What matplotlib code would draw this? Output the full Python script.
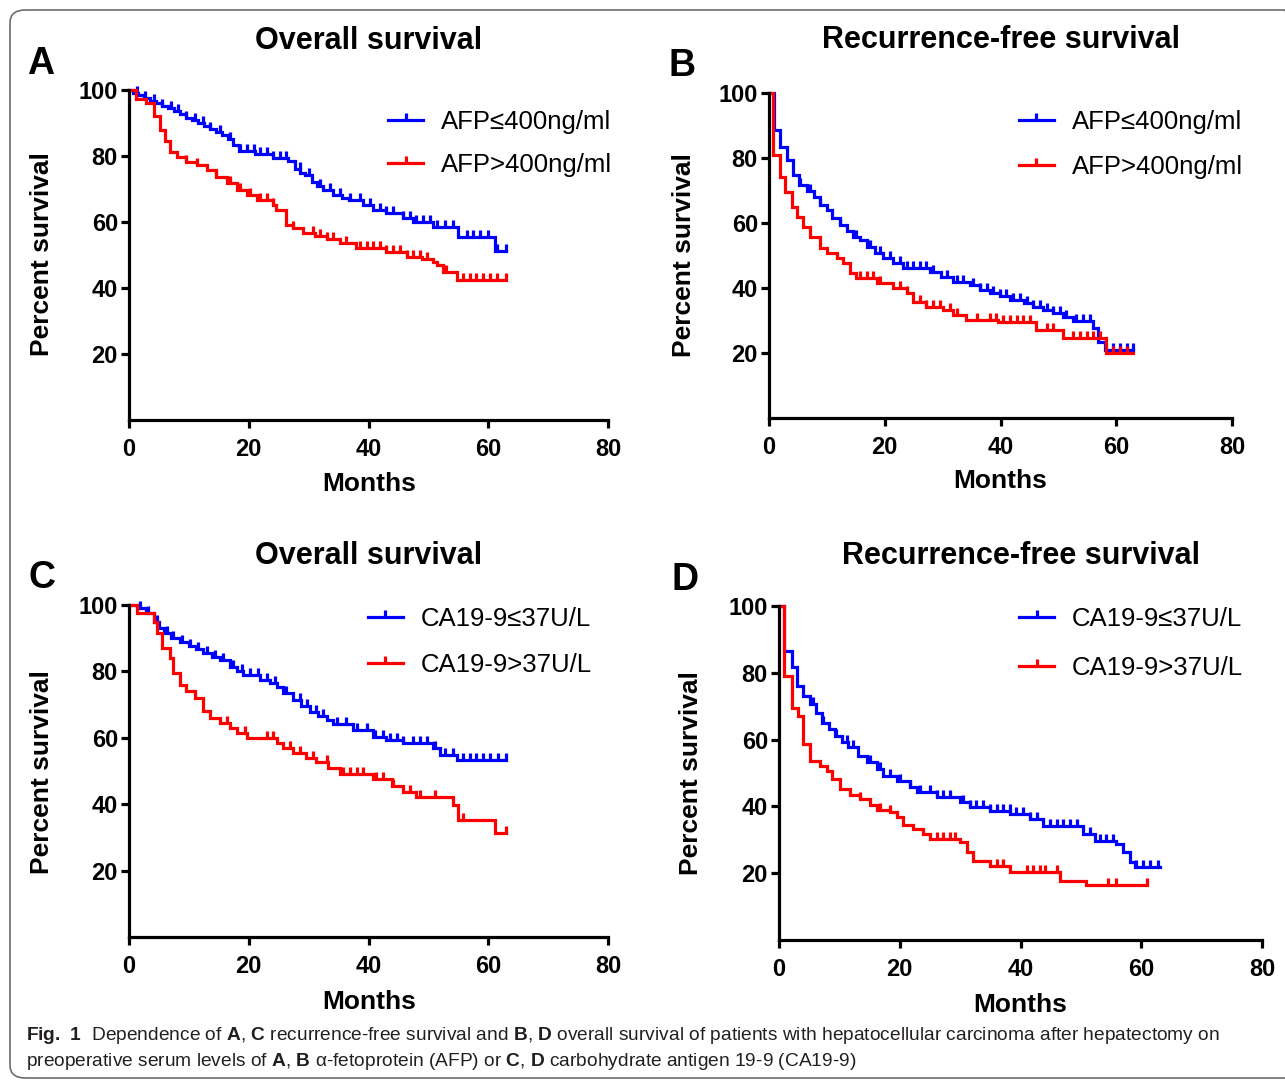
import numpy as np
import matplotlib
matplotlib.use("Agg")
import matplotlib.pyplot as plt
from matplotlib.path import Path
from matplotlib.lines import Line2D
from matplotlib.patches import FancyBboxPatch

plt.rcParams["font.family"] = ["Liberation Sans", "DejaVu Sans"]
plt.rcParams["mathtext.fontset"] = "custom"
plt.rcParams["mathtext.rm"] = "Liberation Sans"
plt.rcParams["mathtext.bf"] = "Liberation Sans:bold"

# ---- data (months, percent survival) ----
# A: overall survival by AFP
a_low_t = [0.7, 1.5, 2.5, 3.5, 4.5, 5.5, 6.5, 7.5, 8.5, 9.5, 10.5, 11.5, 12.5, 13.5, 14.5, 15.5, 16.5, 17.4, 18.3, 21,
           24, 26.5, 27.8, 28.6, 29.4, 30.5, 31.4, 32.4, 34, 35.5, 36.8, 39, 40.7, 43, 45.8, 47.5, 50.8, 55, 61.2]
a_low_s = [99.2, 98.4, 97.6, 96.8, 96, 95.2, 94.4, 93.6, 92.6, 91.6, 90.8, 89.9, 89.1, 88.2, 87.2, 86.3, 85.2, 83.3, 81.5, 80.5,
           79.5, 78.5, 76.2, 75, 74.2, 72.2, 71, 69.7, 68.2, 67.4, 66.6, 65.1, 63.6, 62.6, 61.1, 60.1, 58.6, 55.5, 51.2]
a_low_end = 63
a_low_cens = [1.3, 2.7, 4.1, 5.5, 7, 8.2, 9.6, 11, 12.4, 13.5, 15.2, 16.9, 18.5, 19.7, 20.8, 21.9, 23, 24.1, 25.2, 26.3,
              28.5, 30, 31.9, 33.6, 35.2, 36.9, 38.6, 40.2, 41.9, 43, 44.1, 45.8, 46.9, 48, 49.1, 50.3, 51.4, 52.8, 54.1,
              56.4, 57.5, 58.6, 60, 61.4, 63]
a_high_t = [1.1, 2.8, 4.1, 5.2, 6.0, 6.9, 8, 9.6, 11.3, 13, 14.6, 16.3, 18, 19.7, 21.3, 24, 24.6, 26.3, 27.4, 29,
            31, 33, 35.2, 37.9, 43, 46.4, 49, 50.8, 51.4, 52.5, 54.8]
a_high_s = [97.4, 96, 92, 87.8, 84.5, 81.3, 79.8, 78.3, 77.2, 75.7, 73.7, 71.7, 69.7, 68.2, 66.6, 65.1, 63.6, 59.1, 58.1, 56.6,
            55.8, 54.8, 53.5, 52, 51, 49.5, 48.8, 48, 47, 45, 42.4]
a_high_end = 63
a_high_cens = [9.6, 11.3, 14.6, 16.9, 18.5, 20.2, 21.9, 23, 24.1, 27.4, 30.8, 31.9, 33, 34.1, 36.3, 38.6, 39.7, 40.8, 41.9,
               43, 44.1, 45.2, 46.4, 47.5, 48.6, 49.7, 53, 55.8, 56.9, 58, 59.2, 60.3, 61.4, 63]

# B: recurrence-free survival by AFP
b_low_t = [0.9, 1.9, 3.1, 4.2, 5.1, 6.5, 7.7, 8.8, 10, 10.8, 12.3, 13.4, 14.6, 15.7, 16.9, 18.3, 19.7, 21.5, 23.2, 27.8,
           29.8, 31.8, 34.7, 36.4, 38.2, 39.9, 41.6, 44, 45.7, 47.4, 49.1, 50.8, 52.6, 56, 56.9, 58]
b_low_s = [88.6, 83.5, 79.4, 74.8, 71.7, 69.7, 68.1, 65.6, 64, 61.5, 59.4, 57.4, 55.8, 54.8, 52.7, 50.7, 49.1, 47.6, 46.1, 45,
           43.5, 42, 40.9, 39.4, 38.4, 37.4, 36.3, 35.3, 34.3, 33.2, 32.2, 31.2, 29.7, 27.6, 23.5, 21]
b_low_end = 62.9
b_low_cens = [5.4, 7.1, 8.8, 12.3, 15.1, 17.4, 19.2, 20.9, 22.6, 23.8, 24.9, 26.1, 27.2, 28.4, 30.7, 32.4, 33.6, 35.3, 36.4,
              37.6, 38.7, 39.9, 41, 42.2, 43.3, 44.5, 45.7, 46.8, 48, 49.1, 50.3, 51.4, 53.1, 54.3, 55.4, 59.5, 60.6,
              61.8, 62.9]
b_high_t = [0.7, 1.9, 2.7, 3.9, 4.8, 5.9, 7.1, 8.8, 10, 11.7, 12.8, 14, 15.1, 18.6, 21.5, 23.8, 24.9, 27.2, 30.1, 31.8,
            34.1, 39.5, 46.2, 50.8, 58.3]
b_high_s = [81, 74.2, 69.6, 65, 61.9, 58.8, 55.8, 52.2, 50.7, 49.1, 47.6, 44.5, 43, 41.4, 39.9, 38.4, 35.8, 34.3, 33.2, 31.7,
            30.2, 29.4, 27.1, 24.5, 20]
b_high_end = 62.9
b_high_cens = [15.7, 16.9, 18, 19.2, 22.6, 23.8, 26.1, 27.2, 28.4, 29.5, 31.3, 32.4, 35.9, 38.2, 39.3, 40.5, 41.6, 42.8,
               43.9, 45.1, 48, 49.1, 52.6, 53.7, 54.9, 56, 57.2, 59.5, 60.6, 61.8]

# C: overall survival by CA19-9
c_low_t = [1.4, 2.8, 4.1, 5.0, 5.8, 7, 8.5, 10, 11.2, 12.4, 13.8, 15.2, 16.9, 18, 19.1, 21.9, 23.5, 24.7, 25.8, 27.4,
           28.8, 30.2, 31.6, 33, 34.1, 37.4, 40.7, 43, 45.8, 50.8, 51.9, 54.7]
c_low_s = [99, 97.5, 95, 93.2, 91.5, 90.2, 89, 87.8, 86.6, 85.4, 84.4, 83.4, 81.4, 80.1, 78.9, 77.4, 76.4, 75.4, 73.4, 71.4,
           69.6, 67.8, 66.5, 65.3, 64.3, 62.3, 60.3, 59.3, 58.3, 56.8, 54.8, 53.3]
c_low_end = 63
c_low_cens = [1.8, 3.2, 4.6, 6.3, 7.4, 8.8, 10.2, 11.6, 13, 14.4, 15.7, 17.4, 18.8, 20.2, 21.6, 23, 24.4, 26.3, 28.5, 29.7,
              31.3, 32.4, 34.7, 36.3, 38, 39.7, 41.1, 42.5, 43.6, 44.7, 45.8, 47.5, 48.6, 49.7, 51.1, 52.8, 54.1, 55.8,
              56.9, 58, 59.2, 60.3, 61.7, 63]
c_high_t = [1.4, 4.1, 4.7, 5.5, 6.9, 7.4, 8.5, 9.6, 11, 12.3, 13.5, 15.2, 16.9, 18, 19.7, 24.7, 25.8, 27.4, 29.6, 31.3,
            33.3, 35.2, 40.7, 44, 45.8, 48, 54.1, 55, 61.2]
c_high_s = [97.5, 95, 91.5, 87, 84, 79.6, 76, 74, 72, 68, 66, 64.5, 63, 61.5, 60, 58.5, 57, 55.5, 54, 52.8,
            50.8, 49.2, 47.5, 45.5, 43.8, 42.3, 39.8, 35.3, 31.3]
c_high_end = 63
c_high_cens = [16.3, 19.4, 23, 24.1, 26.9, 28.5, 30.8, 33, 35.8, 36.9, 38, 39.1, 41.3, 42.5, 44.1, 46.9, 48.6, 51.1, 55.8,
               63]

# D: recurrence-free survival by CA19-9
d_low_t = [0.8, 2.1, 2.9, 4, 5.1, 6.2, 7.1, 8.2, 9.3, 10.4, 11.5, 13.1, 14.5, 16.2, 17.3, 19.5, 21.7, 22.8, 26.1, 30,
           31.6, 34.9, 38.3, 41.6, 43.8, 50.4, 52.3, 55.9, 57, 58.1, 59]
d_low_s = [86.6, 81.6, 76.1, 73.1, 70.6, 68.1, 65.1, 63.2, 61.2, 59.2, 57.7, 55.2, 53.2, 51.2, 49.2, 47.7, 45.7, 44.2, 42.7, 41.2,
           39.7, 38.7, 37.7, 36.2, 34.2, 31.7, 29.7, 28.7, 26.2, 23.3, 21.8]
d_low_end = 63.1
d_low_cens = [5.7, 7.3, 9.5, 11.2, 12.3, 15.1, 16.7, 18.4, 20, 21.7, 23.3, 25, 26.1, 27.2, 28.3, 30.5, 31.6, 32.7, 33.8, 35,
              36.1, 37.1, 38.2, 39.3, 40.4, 41.6, 42.7, 44.9, 46, 47.1, 48.2, 49.3, 51.5, 53.1, 54.2, 55.3, 59.2, 60.3,
              61.4, 62.8]
d_high_t = [0.9, 2.1, 3.2, 4, 5.1, 6.8, 7.9, 8.7, 10.1, 11.8, 13.4, 15.1, 16.2, 18.4, 19.5, 20.6, 22.2, 23.9, 25, 30,
            31.1, 32.2, 35, 38.3, 46.5, 50.9]
d_high_s = [79.1, 69.6, 67.2, 58.7, 53.7, 52.2, 50.7, 48.2, 45.2, 43.3, 42.3, 40.3, 38.8, 38.3, 36.8, 34.3, 33.3, 31.8, 30.3, 29.3,
            26.3, 23.8, 22.3, 20.3, 17.8, 16.4]
d_high_end = 61
d_high_cens = [13.4, 16.7, 18.4, 26.1, 27.2, 28.3, 29.1, 36.1, 37.1, 41, 42.1, 43.2, 44, 46, 54.5, 55.9, 61]

titles = ["Overall survival", "Recurrence-free survival", "Overall survival", "Recurrence-free survival"]
letters = ["A", "B", "C", "D"]
afp_labels = ["AFP≤400ng/ml", "AFP>400ng/ml"]
ca_labels = ["CA19-9≤37U/L", "CA19-9>37U/L"]
x_ticks = [0, 20, 40, 60, 80]
y_ticks = [20, 40, 60, 80, 100]

BLUE = "#0000ff"
RED = "#ff0000"
LW = 2.3
TICK = Path([(0, 0), (0, 1)])  # censor mark, points upward

W, H = 1285, 1082


def fx(px):
    return px / W


def fy(py):
    return 1 - py / H


def km_curve(ax, times, surv, end, cens, color):
    x = [0] + times + [end]
    y = [100] + surv + [surv[-1]]
    ax.step(x, y, where="post", color=color, lw=LW, clip_on=False, solid_joinstyle="miter")
    idx = np.searchsorted(times, cens, side="right")
    yc = np.array([100] + surv)[idx]
    ax.plot(cens, yc, ls="none", marker=TICK, ms=10, mew=LW, color=color, clip_on=False)


fig = plt.figure(figsize=(W / 100, H / 100), dpi=100)

# axes boxes in pixels: left, right, top(100%), bottom(0%)
boxes = [(129, 608, 90, 420), (769, 1232, 93, 418), (129, 608, 605, 937), (779, 1262, 606, 940)]
panels = [
    (a_low_t, a_low_s, a_low_end, a_low_cens, a_high_t, a_high_s, a_high_end, a_high_cens, afp_labels),
    (b_low_t, b_low_s, b_low_end, b_low_cens, b_high_t, b_high_s, b_high_end, b_high_cens, afp_labels),
    (c_low_t, c_low_s, c_low_end, c_low_cens, c_high_t, c_high_s, c_high_end, c_high_cens, ca_labels),
    (d_low_t, d_low_s, d_low_end, d_low_cens, d_high_t, d_high_s, d_high_end, d_high_cens, ca_labels),
]
# legend anchor (axes fraction) and row spacing per panel
leg_pos = [(0.541, 0.94, 0.75), (0.54, 0.947, 0.79), (0.499, 0.995, 0.88), (0.497, 0.998, 0.99)]
title_pos = [(369, 41), (1001, 40), (369, 556), (1021, 556)]
xlabel_pos = [(369, 484), (1000, 481), (369, 1002), (1020, 1005)]
ylabel_pos = [(42, 254), (684, 255), (42, 772), (691, 773)]
letter_pos = [(41, 64), (682, 66), (42, 578), (685, 580)]

for i, (l, r, t, b) in enumerate(boxes):
    ax = fig.add_axes([fx(l), fy(b), (r - l) / W, (b - t) / H])
    lt, ls, le, lc, ht, hs, he, hc, labels = panels[i]
    km_curve(ax, lt, ls, le, lc, BLUE)
    km_curve(ax, ht, hs, he, hc, RED)

    ax.set_xlim(0, 80)
    ax.set_ylim(0, 100)
    ax.set_xticks(x_ticks)
    ax.set_yticks(y_ticks)
    for side in ["top", "right"]:
        ax.spines[side].set_visible(False)
    for side in ["left", "bottom"]:
        ax.spines[side].set_linewidth(LW)
    ax.tick_params(axis="both", length=6, width=LW, labelsize=17)
    ax.tick_params(axis="x", pad=7)
    ax.tick_params(axis="y", pad=2)
    for lab in ax.get_xticklabels() + ax.get_yticklabels():
        lab.set_fontweight("bold")

    handles = [Line2D([], [], color=BLUE, lw=LW, marker=TICK, ms=10, mew=LW),
               Line2D([], [], color=RED, lw=LW, marker=TICK, ms=10, mew=LW)]
    lx, ly, sp = leg_pos[i]
    ax.legend(handles, labels, loc="upper left", bbox_to_anchor=(lx, ly), frameon=False,
              borderpad=0, borderaxespad=0, handlelength=1.36, handletextpad=0.7,
              labelspacing=sp, numpoints=1, prop={"size": 18.5})

    fig.text(fx(title_pos[i][0]), fy(title_pos[i][1]), titles[i], ha="center", va="center",
             fontsize=22, fontweight="bold")
    fig.text(fx(xlabel_pos[i][0]), fy(xlabel_pos[i][1]), "Months", ha="center", va="center",
             fontsize=19, fontweight="bold")
    fig.text(fx(ylabel_pos[i][0]), fy(ylabel_pos[i][1]), "Percent survival", ha="center", va="center",
             fontsize=19, fontweight="bold", rotation=90)
    fig.text(fx(letter_pos[i][0]), fy(letter_pos[i][1]), letters[i], ha="center", va="center",
             fontsize=27, fontweight="bold")

# rounded frame around the whole figure
frame = FancyBboxPatch((fx(10), fy(1078)), (1300 - 10) / W, (1078 - 10) / H,
                       boxstyle="round,pad=0,rounding_size=0.012", transform=fig.transFigure,
                       fill=False, ec="#6d6d6d", lw=1.2)
fig.patches.append(frame)

# caption
line1 = (r"$\mathbf{Fig.\ 1}$  Dependence of $\mathbf{A}$, $\mathbf{C}$ recurrence-free survival and "
         r"$\mathbf{B}$, $\mathbf{D}$ overall survival of patients with hepatocellular carcinoma after hepatectomy on")
line2 = (r"preoperative serum levels of $\mathbf{A}$, $\mathbf{B}$ α-fetoprotein (AFP) or "
         r"$\mathbf{C}$, $\mathbf{D}$ carbohydrate antigen 19-9 (CA19-9)")
fig.text(fx(26), fy(1036), line1, ha="left", va="center", fontsize=13.8, color="#231f20")
fig.text(fx(26), fy(1062), line2, ha="left", va="center", fontsize=13.8, color="#231f20")

fig.savefig("out.png", dpi=100)
